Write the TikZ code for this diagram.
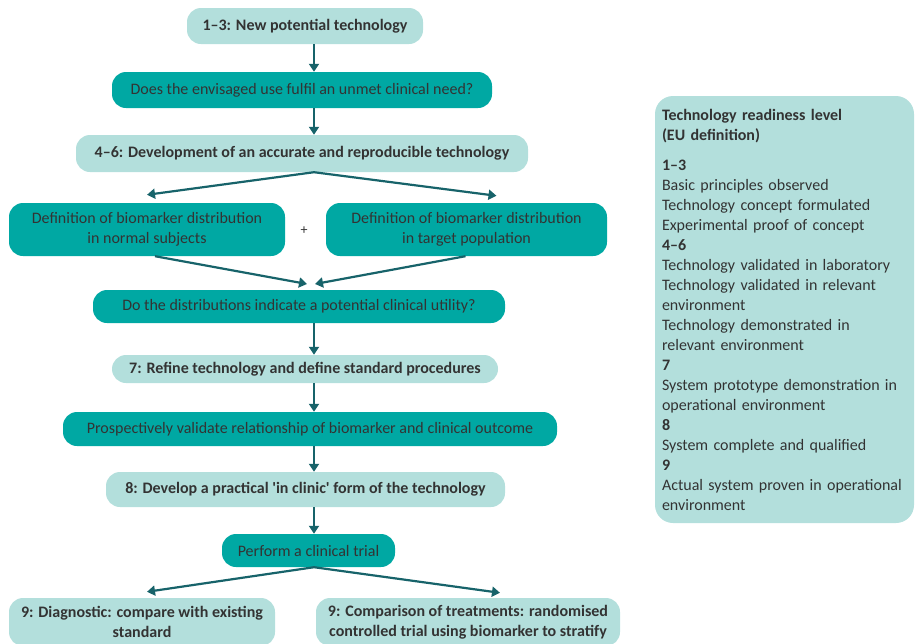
\documentclass[tikz,border=0pt]{standalone}
\usepackage{fontspec}
\setmainfont{Carlito}
\usepackage{tikz}
\usetikzlibrary{arrows.meta}

\definecolor{tealL}{HTML}{B3DFDC}
\definecolor{tealD}{HTML}{00A8A3}
\definecolor{ink}{HTML}{333333}
\definecolor{arr}{HTML}{17636A}

\tikzset{
  box/.style = {rounded corners=14pt, inner sep=0pt, text=ink, align=center,
                font=\fontsize{16}{20}\selectfont},
  light/.style = {box, fill=tealL, font=\fontsize{16}{20}\selectfont\bfseries},
  dark/.style = {box, fill=tealD},
  flow/.style = {->, arr, line width=2.2pt},
  >={Triangle[width=10pt,length=8pt]}
}

\begin{document}
\begin{tikzpicture}[x = 1pt, y = -1pt]
\useasboundingbox (0,0) rectangle (916,643);

\coordinate (axis) at (314,0);

\node[light, minimum width=236pt, minimum height=36pt] (new) at (305,26) {1--3: New potential technology};
\node[dark, minimum width=380pt, minimum height=36pt] (need) at (302,90) {Does the envisaged use fulfil an unmet clinical need?};
\node[light, minimum width=452pt, minimum height=37pt] (dev) at (302,153.5) {4--6: Development of an accurate and reproducible technology};
\node[dark, minimum width=276pt, minimum height=53pt] (normal) at (147,229.5) {Definition of biomarker distribution\\in normal subjects};
\node[dark, minimum width=281pt, minimum height=53pt] (target) at (466.5,229.5) {Definition of biomarker distribution\\in target population};
\node[text=ink, font=\fontsize{14}{16}\selectfont] (plus) at (304,231) {+};
\node[dark, minimum width=412pt, minimum height=33pt] (util) at (299,306.5) {Do the distributions indicate a potential clinical utility?};
\node[light, minimum width=386pt, minimum height=28pt] (refine) at (305,369) {7: Refine technology and define standard procedures};
\node[dark, minimum width=494pt, minimum height=34pt] (valid) at (310,429) {Prospectively validate relationship of biomarker and clinical outcome};
\node[light, minimum width=399pt, minimum height=35pt] (clinic) at (305.5,489.5) {8: Develop a practical \textquotesingle in clinic\textquotesingle{} form of the technology};
\node[dark, minimum width=173pt, minimum height=33pt] (trial) at (308.5,550.5) {Perform a clinical trial};
\node[light, minimum width=266pt, minimum height=48pt] (diag) at (142,622) {9: Diagnostic: compare with existing\\standard};
\node[light, minimum width=304pt, minimum height=48pt] (treat) at (468,622) {9: Comparison of treatments: randomised\\controlled trial using biomarker to stratify};

\node[box, fill=tealL, rounded corners=18pt, minimum width=259pt, minimum height=427pt, text width=245pt, align=left] (trl) at (784.5,309.5)
{\textbf{Technology readiness level}\\\textbf{(EU definition)}\\[10pt]
\textbf{1--3}\\Basic principles observed\\Technology concept formulated\\Experimental proof of concept\\
\textbf{4--6}\\Technology validated in laboratory\\Technology validated in relevant\\environment\\Technology demonstrated in\\relevant environment\\
\textbf{7}\\System prototype demonstration in\\operational environment\\
\textbf{8}\\System complete and qualified\\
\textbf{9}\\Actual system proven in operational\\environment};

\draw[flow] (new.south -| axis) -- (need.north -| axis);
\draw[flow] (need.south -| axis) -- (dev.north -| axis);

\draw[flow] (dev.south -| axis) -- ([yshift=8pt]normal.north);
\draw[flow] (dev.south -| axis) -- ([xshift=30pt,yshift=7pt]target.north);

\coordinate (meet) at (311,284);
\draw[flow] ([xshift=8pt]normal.south) -- ([xshift=-4pt]meet);
\draw[flow] ([xshift=-1pt]target.south) -- ([xshift=4pt]meet);

\draw[flow] (util.south -| axis) -- (refine.north -| axis);
\draw[flow] (refine.south -| axis) -- (valid.north -| axis);
\draw[flow] (valid.south -| axis) -- (clinic.north -| axis);
\draw[flow] (clinic.south -| axis) -- (trial.north -| axis);

\draw[flow] (trial.south -| axis) -- ([xshift=5pt,yshift=6pt]diag.north);
\draw[flow] (trial.south -| axis) -- ([xshift=32pt,yshift=5pt]treat.north);
\end{tikzpicture}
\end{document}
